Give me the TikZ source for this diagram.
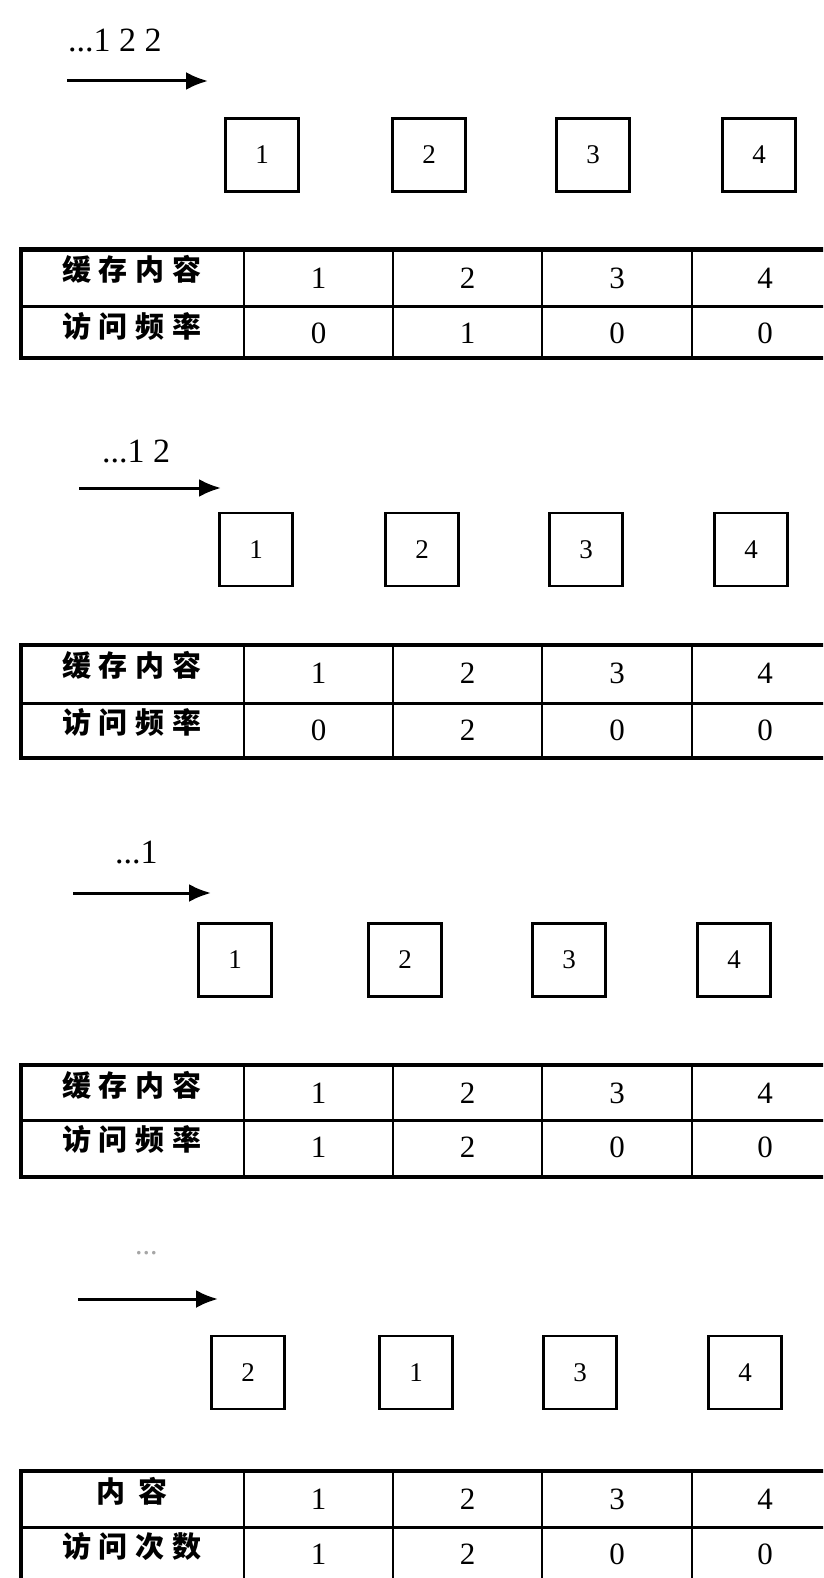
\documentclass[tikz,border=0pt]{standalone}
\usepackage{fontspec}
\setmainfont{Liberation Serif}
\newfontfamily\cjk{Noto Sans CJK SC}
\usetikzlibrary{arrows.meta}
\newcommand\gap{\hspace{8pt}}
\newcommand\wgap{\hspace{14pt}}
\tikzset{
  cell/.style={font=\fontsize{31}{31}\selectfont, inner sep=0pt},
  lab/.style={font=\cjk\bfseries\fontsize{29}{29}\selectfont, inner sep=0pt},
  slot/.style={draw, line width=2.2pt, minimum width=73pt, minimum height=73pt, inner sep=0pt, font=\fontsize{27}{27}\selectfont},
  feed/.style={line width=3pt, -{Latex[length=22pt,width=18pt]}},
  seq/.style={font=\fontsize{34}{34}\selectfont, inner sep=0pt, anchor=base west},
  outerline/.style={line width=4.5pt, line join=miter},
  rowline/.style={line width=3pt},
  colline/.style={line width=2.4pt},
}
% #1 prefix, #2 top, #3 mid, #4 bottom, #5 label 1, #6 label 2, #7 v1, #8 v2
\newcommand\cachetable[8]{%
  \draw[outerline] (845,#2) -- (21,#2) -- (21,#4) -- (845,#4);
  \draw[rowline] (21,#3) -- (845,#3);
  \foreach \cx in {244,393,542,692} \draw[colline] (\cx,#2) -- (\cx,#4);
  \node[lab] (#1l1) at (132,{#2+20}) {#5};
  \node[lab] (#1l2) at (132,{#3+19.5}) {#6};
  \node[cell] (#1a1) at (318.5,{#2+28.5}) {1};
  \node[cell] (#1a2) at (467.5,{#2+28.5}) {2};
  \node[cell] (#1a3) at (617,{#2+28.5}) {3};
  \node[cell] (#1a4) at (765,{#2+28.5}) {4};
  \node[cell] (#1b1) at (318.5,{#3+27}) {#7};
  \node[cell] (#1b2) at (467.5,{#3+27}) {#8};
  \node[cell] (#1b3) at (617,{#3+27}) {0};
  \node[cell] (#1b4) at (765,{#3+27}) {0};
}
\begin{document}
\begin{tikzpicture}[x=1pt,y=-1pt]
\useasboundingbox (0,0) rectangle (823,1578);
\fill[white] (0,0) rectangle (823,1578);
\clip (0,0) rectangle (823,1578);

% ---------- section 1 ----------
\node[seq] (s1) at (68,52) {...1 2 2};
\coordinate (s1a) at (67,81);
\coordinate (s1b) at (208,81);
\draw[feed] (s1a) -- (s1b);
\node[slot] (s1k1) at (262,155) {1};
\node[slot] (s1k2) at (429,155) {2};
\node[slot] (s1k3) at (593,155) {3};
\node[slot] (s1k4) at (759,155) {4};
\cachetable{t1}{249.5}{306.5}{358}{缓\gap 存\gap 内\gap 容}{访\gap 问\gap 频\gap 率}{0}{1}

% ---------- section 2 ----------
\node[seq] (s2) at (102,462) {...1 2};
\coordinate (s2a) at (79,488);
\coordinate (s2b) at (221,488);
\draw[feed] (s2a) -- (s2b);
\node[slot] (s2k1) at (256,549.5) {1};
\node[slot] (s2k2) at (422,549.5) {2};
\node[slot] (s2k3) at (586,549.5) {3};
\node[slot] (s2k4) at (751,549.5) {4};
\cachetable{t2}{645}{703}{758}{缓\gap 存\gap 内\gap 容}{访\gap 问\gap 频\gap 率}{0}{2}

% ---------- section 3 ----------
\node[seq] (s3) at (115,863) {...1};
\coordinate (s3a) at (73,893);
\coordinate (s3b) at (211,893);
\draw[feed] (s3a) -- (s3b);
\node[slot] (s3k1) at (235,960) {1};
\node[slot] (s3k2) at (405,960) {2};
\node[slot] (s3k3) at (569,960) {3};
\node[slot] (s3k4) at (734,960) {4};
\cachetable{t3}{1065}{1120}{1177}{缓\gap 存\gap 内\gap 容}{访\gap 问\gap 频\gap 率}{1}{2}

% ---------- section 4 ----------
\node[seq, text=black!35, font=\fontsize{30}{30}\selectfont] (s4) at (135,1254) {...};
\coordinate (s4a) at (78,1299);
\coordinate (s4b) at (218,1299);
\draw[feed] (s4a) -- (s4b);
\node[slot] (s4k1) at (248,1372.5) {2};
\node[slot] (s4k2) at (416,1372.5) {1};
\node[slot] (s4k3) at (580,1372.5) {3};
\node[slot] (s4k4) at (745,1372.5) {4};
\cachetable{t4}{1471}{1527}{1610}{内\wgap 容}{访\gap 问\gap 次\gap 数}{1}{2}
\end{tikzpicture}
\end{document}
